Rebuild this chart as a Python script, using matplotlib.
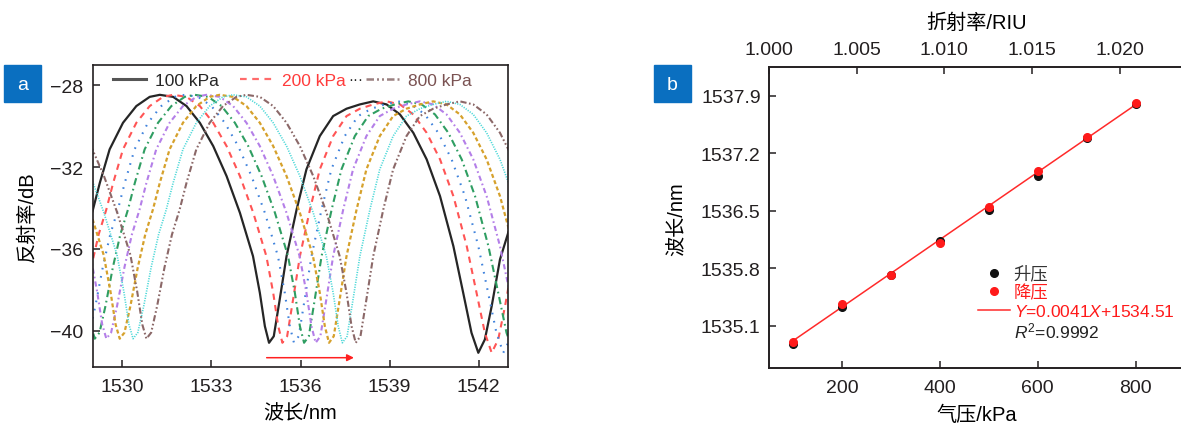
import numpy as np
import matplotlib
matplotlib.use("Agg")
import matplotlib.pyplot as plt
from matplotlib.lines import Line2D
from matplotlib.patches import Rectangle

plt.rcParams['font.family'] = ['Liberation Sans', 'Noto Sans CJK SC']
plt.rcParams['mathtext.fontset'] = 'custom'
plt.rcParams['mathtext.it'] = 'Liberation Sans:italic'
plt.rcParams['mathtext.rm'] = 'Liberation Sans'
plt.rcParams['axes.unicode_minus'] = True

# ---- panel a: reflection spectra ----
pressure_kpa = [100, 200, 300, 400, 500, 600, 700, 800]
# spectral shift of each curve relative to 100 kPa (read from the dips near 1535-1538 nm)
shift_nm = [0.00, 0.45, 0.84, 1.18, 1.57, 2.02, 2.47, 2.92]
# 100 kPa spectrum
wl_100 = [1526.0, 1526.45, 1526.9, 1527.35, 1527.58, 1527.75, 1527.89, 1528.05, 1528.25,
          1528.5, 1528.75, 1529.01, 1529.24, 1529.57, 1530.02, 1530.47, 1530.92, 1531.26,
          1531.71, 1532.16, 1532.61, 1533.06, 1533.51, 1533.96, 1534.40, 1534.63, 1534.80,
          1534.94, 1535.10, 1535.30, 1535.53, 1535.87, 1536.20, 1536.65, 1537.10, 1537.55,
          1538.0, 1538.45, 1538.9, 1539.35, 1539.80, 1540.25, 1540.70, 1541.15, 1541.48,
          1541.76, 1541.99, 1542.21, 1542.44, 1542.72, 1543.0]
db_100 = [-30.9, -32.4, -34.2, -36.3, -38.1, -39.7, -40.4, -40.1, -38.8,
          -36.9, -35.3, -34.07, -32.77, -31.13, -29.83, -29.01, -28.56, -28.46,
          -28.56, -29.01, -29.83, -30.97, -32.44, -34.24, -36.36, -38.15, -39.79,
          -40.60, -40.28, -38.48, -36.36, -34.07, -32.11, -30.48, -29.50, -29.14,
          -28.93, -28.78, -28.93, -29.42, -30.32, -31.62, -33.42, -35.87, -38.15,
          -40.11, -41.09, -40.44, -38.81, -36.52, -35.2]

curve_colors = ['#262626', '#ff5555', '#3f82dc', '#2f9e62', '#b47fe8', '#d6a12c', '#4cd8d8', '#8b6868']
curve_styles = ['-', (0, (3, 2.5)), (0, (0.8, 3.2)), (0, (3.5, 1.8, 0.8, 1.8)),
                (0, (2.5, 1.5, 0.8, 1.5)), (0, (1.8, 1.2)), (0, (0.7, 0.8)),
                (0, (3, 1.2, 0.8, 1.2, 0.8, 1.2))]
curve_lw = [1.6, 1.5, 1.5, 1.5, 1.5, 1.6, 1.2, 1.5]

# ---- panel b: dip wavelength vs pressure ----
p_kpa = [100, 200, 300, 400, 500, 600, 700, 800]
wl_up = [1534.877, 1535.323, 1535.717, 1536.135, 1536.508, 1536.926, 1537.38, 1537.80]
wl_down = [1534.905, 1535.364, 1535.717, 1536.107, 1536.54, 1536.979, 1537.40, 1537.807]
fit_slope = 0.0041
fit_icpt = 1534.51
r2 = 0.9992

fig = plt.figure(figsize=(11.81, 4.27), dpi=100)
W, H = 1181.0, 427.0
spine_c = '#231f20'

def style_axes(ax):
    for s in ax.spines.values():
        s.set_color(spine_c)
        s.set_linewidth(1.2)
    ax.tick_params(direction='in', length=5, width=1.1, colors=spine_c, labelsize=14)

ax1 = fig.add_axes([92.7 / W, 1 - 368.3 / H, (508.3 - 92.7) / W, (368.3 - 66) / H])
style_axes(ax1)
x100 = np.array(wl_100)
for p, sh, c, ls, lw in zip(pressure_kpa, shift_nm, curve_colors, curve_styles, curve_lw):
    ax1.plot(x100 + sh, db_100, color=c, ls=ls, lw=lw)
ax1.set_xlim(1529, 1543)
ax1.set_ylim(-41.8, -27)
ax1.set_xticks([1530, 1533, 1536, 1539, 1542])
ax1.set_yticks([-28, -32, -36, -40])
ax1.tick_params(axis='y', pad=7)
ax1.tick_params(axis='x', pad=8)
ax1.set_xlabel('波长/nm', fontsize=14.5, labelpad=6)
ax1.set_ylabel('反射率/dB', fontsize=14.5, labelpad=9)
ax1.annotate('', xy=(1537.8, -41.33), xytext=(1534.86, -41.33),
             arrowprops=dict(arrowstyle='-|>', color='#ff2020', lw=1.1,
                             mutation_scale=10, shrinkA=0, shrinkB=0))

leg_handles = [Line2D([], [], color='#555555', lw=2.2),
               Line2D([], [], color='#ff6b6b', lw=1.6, ls=(0, (3, 2.5))),
               Line2D([], [], color='#9a8080', lw=1.8, ls=(0, (3, 1.2, 0.8, 1.2, 0.8, 1.2)))]
leg = ax1.legend(leg_handles, ['100 kPa', '200 kPa', '800 kPa'], ncol=3, frameon=False,
                 loc='center left', bbox_to_anchor=(0.05, 0.95), fontsize=12.5,
                 handlelength=1.9, handletextpad=0.5, columnspacing=1.2,
                 borderpad=0, borderaxespad=0,
                 labelcolor=['#262626', '#ff3b3b', '#7a5252'])
ax1.text(0.633, 0.953, '···', transform=ax1.transAxes, ha='center', va='center',
         fontsize=11, color='#262626')

# ---- panel b ----
ax2 = fig.add_axes([769 / W, 1 - 369 / H, (1184.4 - 769) / W, (369 - 68.3) / H])
style_axes(ax2)
ax2.spines['right'].set_visible(False)
xfit = np.array([p_kpa[0], p_kpa[-1]])
ax2.plot(xfit, fit_slope * xfit + fit_icpt, color='#ff2a2a', lw=1.1, zorder=2)
ax2.plot(p_kpa, wl_up, 'o', color='#111111', ms=5.5, zorder=3)
ax2.plot(p_kpa, wl_down, 'o', color='#ff1a1a', ms=5.5, zorder=4)
ax2.set_xlim(50, 900)
ax2.set_ylim(1534.585, 1538.246)
ax2.set_xticks([200, 400, 600, 800])
ax2.set_yticks([1535.1, 1535.8, 1536.5, 1537.2, 1537.9])
ax2.set_yticklabels(['1535.1', '1535.8', '1536.5', '1537.2', '1537.9'])
ax2.tick_params(axis='y', pad=6)
ax2.tick_params(axis='x', pad=8)
ax2.set_xlabel('气压/kPa', fontsize=14.5, labelpad=6)
ax2.set_ylabel('波长/nm', fontsize=14.5, labelpad=10)

ax3 = ax2.twiny()
style_axes(ax3)
ax3.spines['right'].set_visible(False)
ax3.set_xlim(1.000, 1.0237)
ax3.set_xticks([1.000, 1.005, 1.010, 1.015, 1.020])
ax3.set_xticklabels(['1.000', '1.005', '1.010', '1.015', '1.020'])
ax3.tick_params(axis='x', pad=7)
ax3.set_xlabel('折射率/RIU', fontsize=14.5, labelpad=9)

hb = [Line2D([], [], ls='none', marker='o', color='#111111', ms=5.5),
      Line2D([], [], ls='none', marker='o', color='#ff1a1a', ms=5.5),
      Line2D([], [], color='#ff2a2a', lw=1.1),
      Line2D([], [], color='none')]
lb = ['升压', '降压', '$\\mathit{Y}$=%.4f$\\mathit{X}$+%.2f' % (fit_slope, fit_icpt),
      '$\\mathit{R}^{2}$=%.4f' % r2]
ax2.legend(hb, lb, loc='upper left', bbox_to_anchor=(0.503, 0.343), frameon=False,
           fontsize=12.5, handlelength=1.85, handletextpad=0.2, labelspacing=0.13,
           borderpad=0, borderaxespad=0,
           labelcolor=['#333333', '#ff1a1a', '#ff1a1a', '#222222'])

# panel tags
for x0, tag in [(4, 'a'), (654, 'b')]:
    fig.add_artist(Rectangle((x0 / W, 1 - 103 / H), 37 / W, 37 / H,
                             transform=fig.transFigure, color='#0a6fc0'))
    fig.text((x0 + 18.5) / W, 1 - 85 / H, tag, color='white', fontsize=14,
             ha='center', va='center')

fig.savefig('out.png', dpi=100)
